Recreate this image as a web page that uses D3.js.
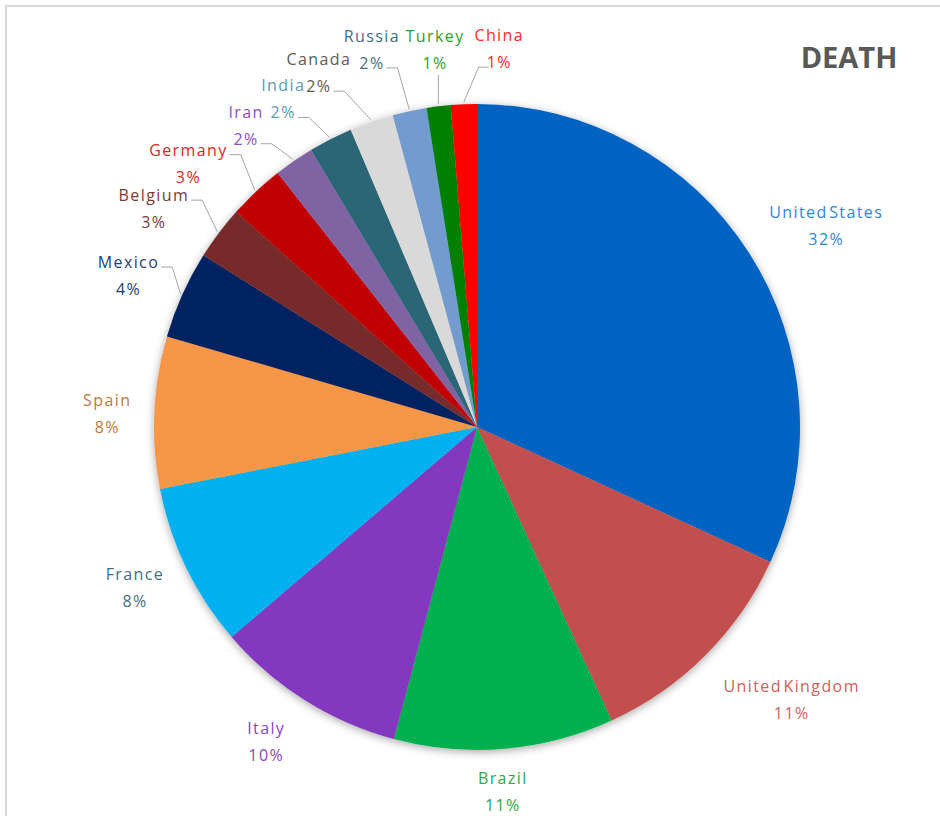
<!DOCTYPE html>
<html>
<head>
<meta charset="utf-8">
<script src="https://cdn.jsdelivr.net/npm/d3@7"></script>
<style>
  html, body { margin: 0; padding: 0; background: #fff; }
  svg { display: block; }
</style>
</head>
<body>
<div id="chart"></div>
<script>
// share of deaths per country (%)
const countries = ["United States", "United Kingdom", "Brazil", "Italy", "France", "Spain", "Mexico",
                   "Belgium", "Germany", "Iran", "India", "Canada", "Russia", "Turkey", "China"];
const shares = [31.9, 11.3, 11.0, 9.6, 8.2, 7.6, 4.4, 2.7, 2.8, 2.0, 2.2, 2.2, 1.7, 1.2, 1.3];
const title = "DEATH";

const sliceColors = ["#0563c1", "#c0504d", "#00b050", "#8338bf", "#00b0f0", "#f79646", "#002060",
                     "#772c2a", "#c00000", "#8064a2", "#2b6676", "#d9d9d9", "#729bcf", "#008000", "#ff0000"];
const labelColors = ["#2f86d4", "#d0605c", "#2ea64c", "#8a46c2", "#3f6f82", "#c0783c", "#1f3d7a",
                     "#7a3a36", "#d42a2a", "#8a4fc6", "#5a9bb0", "#5f5b4f", "#3f6f80", "#2e9e2e", "#ff2a2a"];

// label layout: angle nudge (deg) from the slice middle, distance from centre
const labelNudge = [2.7, -4.2, 0.8, 1.6, 0.6, -0.5, -0.7, -2.9, -4.4, -2.9, -3.6, -5, -3.5, 0.5, 5.7];
const labelDist  = [403, 416, 365, 379, 378, 370, 380, 390, 391, 380, 381, 388, 392, 380, 379];

const width = 940, height = 816;
const cx = 477, cy = 427, R = 323;
const fontFamily = "'Open Sans', 'Noto Sans', sans-serif";

const svg = d3.select("#chart").append("svg")
    .attr("width", width).attr("height", height)
    .attr("viewBox", `0 0 ${width} ${height}`);

// soft shadow under the pie
const defs = svg.append("defs");
defs.append("filter").attr("id", "shadow")
    .attr("x", "-10%").attr("y", "-10%").attr("width", "120%").attr("height", "120%")
    .append("feDropShadow")
    .attr("dx", 0).attr("dy", 2).attr("stdDeviation", 4)
    .attr("flood-color", "#000").attr("flood-opacity", 0.35);

// outer frame (runs off the bottom/right of the picture)
svg.append("rect")
    .attr("x", 6).attr("y", 6).attr("width", 980).attr("height", 860)
    .attr("fill", "none").attr("stroke", "#d9d9d9").attr("stroke-width", 2);

const data = countries.map((c, i) => ({ name: c, value: shares[i], i }));
const total = d3.sum(shares);

const pie = d3.pie().sort(null).value(d => d.value);
const arcs = pie(data);
const arc = d3.arc().innerRadius(0).outerRadius(R);

const pieG = svg.append("g")
    .attr("transform", `translate(${cx},${cy})`)
    .attr("filter", "url(#shadow)");

pieG.selectAll("path")
    .data(arcs)
    .join("path")
    .attr("d", arc)
    .attr("fill", d => sliceColors[d.data.i]);

const polar = (a, r) => [cx + r * Math.sin(a), cy - r * Math.cos(a)];
const fmt = v => Math.round(v / total * 100) + "%";

const labelG = svg.append("g");
const leaderG = svg.append("g");

arcs.forEach(d => {
    const i = d.data.i;
    const mid = (d.startAngle + d.endAngle) / 2;
    const a = mid + labelNudge[i] * Math.PI / 180;
    const [lx, ly] = polar(a, labelDist[i]);

    const lines = [d.data.name, fmt(d.data.value)].map((t, k) =>
        labelG.append("text")
            .attr("x", lx)
            .attr("y", ly + (k === 0 ? -13.5 : 13.5) + 6)
            .attr("text-anchor", "middle")
            .attr("font-family", fontFamily)
            .attr("font-size", 16)
            .attr("letter-spacing", 1.4)
            .attr("word-spacing", -4)
            .attr("fill", labelColors[i])
            .text(t));

    // leader lines only for the small slices
    if (d.data.value / total >= 0.05) return;
    const P = polar(mid, R + 2);
    const useFirst = mid * 180 / Math.PI < 320;
    const line = lines[useFirst ? 0 : 1];
    const bb = line.node().getBBox();
    const y0 = ly + (useFirst ? -13.5 : 13.5) + 5;
    let pts;
    if (P[0] > bb.x + bb.width + 4) {
        const x0 = bb.x + bb.width + 2;
        pts = [[x0, y0], [x0 + 11, y0], P];
    } else if (P[0] < bb.x - 4) {
        const x0 = bb.x + 2;
        pts = [[x0, y0], [x0 - 10, y0], P];
    } else {
        const bl = lines[1].node().getBBox();
        pts = [[P[0], bl.y + bl.height + 1], P];
    }
    leaderG.append("path")
        .attr("d", d3.line()(pts))
        .attr("fill", "none")
        .attr("stroke", "#a6a6a6")
        .attr("stroke-width", 1);
});

svg.append("text")
    .attr("x", 849).attr("y", 68)
    .attr("text-anchor", "middle")
    .attr("font-family", fontFamily)
    .attr("font-size", 29)
    .attr("font-weight", "bold")
    .attr("fill", "#595959")
    .text(title);
</script>
</body>
</html>
